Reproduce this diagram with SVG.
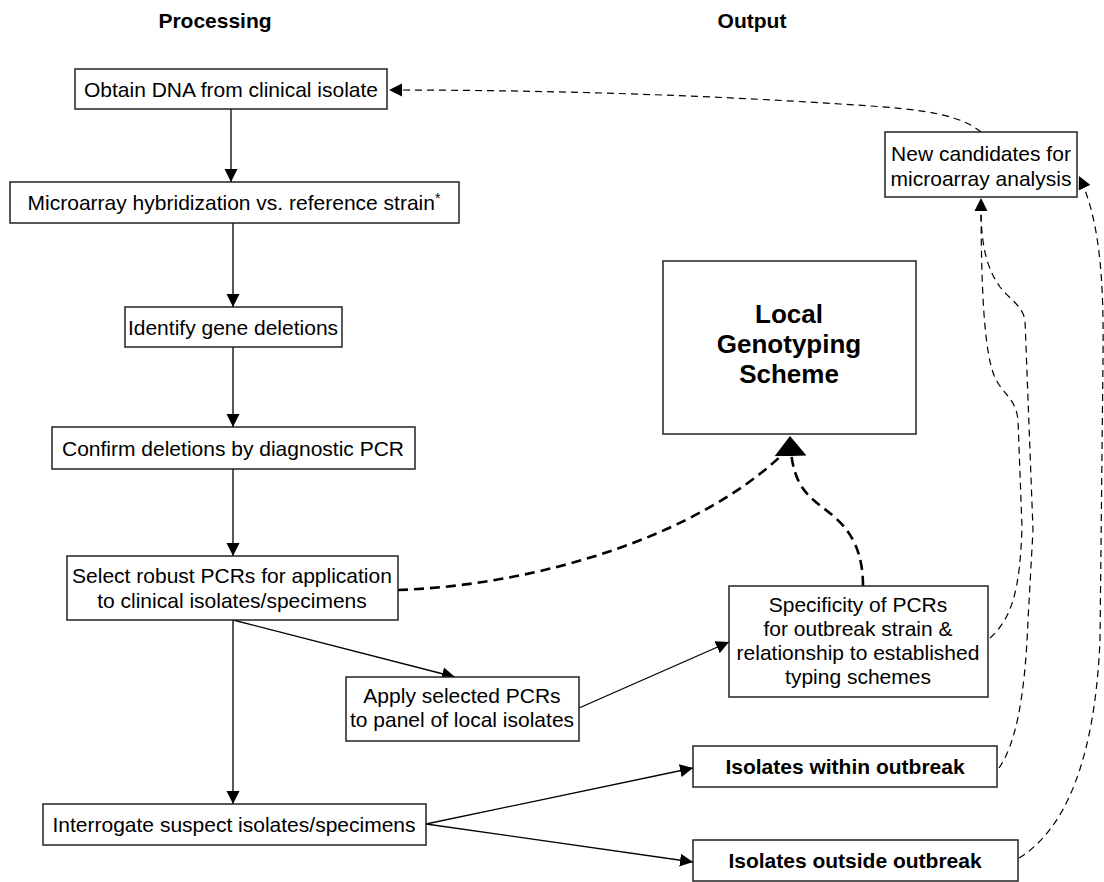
<svg xmlns="http://www.w3.org/2000/svg" width="1104" height="882" viewBox="0 0 1104 882">
<style>
.box{fill:#fff;stroke:#222;stroke-width:1.5}
.t{font-family:"Liberation Sans",Arial,sans-serif;font-size:21px;fill:#000;text-anchor:middle}
.b{font-weight:bold}
.big{font-size:26px}
.solid{fill:none;stroke:#000;stroke-width:1.3}
.thin{fill:none;stroke:#000;stroke-width:1.2;stroke-dasharray:7 5}
.thick{fill:none;stroke:#000;stroke-width:2.6;stroke-dasharray:10 6}
</style>
<defs>
<marker id="ah" markerUnits="userSpaceOnUse" markerWidth="14" markerHeight="14" viewBox="0 0 14 14" refX="13" refY="7" orient="auto">
<path d="M0,0.5 L13,7 L0,13.5 Z" fill="#000"/>
</marker>
<marker id="big" markerUnits="userSpaceOnUse" markerWidth="21" markerHeight="33" viewBox="0 0 21 33" refX="20" refY="16.5" orient="auto">
<path d="M0,0.5 L20,16.5 L0,32.5 Z" fill="#000"/>
</marker>
</defs>
<rect width="1104" height="882" fill="#fff"/>
<text class="t b" x="215" y="28">Processing</text>
<text class="t b" x="752" y="28">Output</text>
<g id="connectors">
<path class="solid" d="M231,109 L231,182" marker-end="url(#ah)"/>
<path class="solid" d="M233,223 L233,307" marker-end="url(#ah)"/>
<path class="solid" d="M233,347 L233,427" marker-end="url(#ah)"/>
<path class="solid" d="M233,469 L233,556" marker-end="url(#ah)"/>
<path class="solid" d="M233,620 L233,804" marker-end="url(#ah)"/>
<path class="solid" d="M233,620 L455,677" marker-end="url(#ah)"/>
<path class="solid" d="M579,708 L729,642" marker-end="url(#ah)"/>
<path class="solid" d="M426,824 L693,768" marker-end="url(#ah)"/>
<path class="solid" d="M426,824 L693,862" marker-end="url(#ah)"/>
<path class="thick" d="M398,590 C540,585 700,535 785,452"/>
<path class="thick" d="M863,586 C863,540 842,522 822,507 C802,492 791,478 790,436" marker-end="url(#big)"/>
<path class="thin" d="M981,132 C955,110 900,108 840,104 C700,95 550,90 389,90" marker-end="url(#ah)"/>
<path class="thin" d="M990,638 C1012,618 1020,590 1022,527 L1018,420 C1016,400 1005,395 998,383 C985,365 981,300 981,198" marker-end="url(#ah)"/>
<path class="thin" d="M999,768 C1015,745 1025,700 1028,620 L1033,530 L1025,320 C1022,305 1010,300 1000,287 C988,270 982,250 981,215"/>
<path class="thin" d="M1019,858 C1065,830 1095,760 1100,640 L1103,360 C1104,280 1100,220 1079,176" marker-end="url(#ah)"/>
</g>
<g id="n1"><rect class="box" x="75" y="69" width="312" height="40"/><text class="t" x="231" y="97">Obtain DNA from clinical isolate</text></g>
<g id="n2"><rect class="box" x="10" y="182" width="449" height="41"/><text class="t" x="234" y="210">Microarray hybridization vs. reference strain<tspan font-size="14" dy="-7">*</tspan></text></g>
<g id="n3"><rect class="box" x="125" y="307" width="217" height="40"/><text class="t" x="233" y="335">Identify gene deletions</text></g>
<g id="n4"><rect class="box" x="52" y="427" width="363" height="42"/><text class="t" x="233" y="456">Confirm deletions by diagnostic PCR</text></g>
<g id="n5"><rect class="box" x="67" y="556" width="331" height="64"/><text class="t" x="232" y="583">Select robust PCRs for application</text><text class="t" x="232" y="608">to clinical isolates/specimens</text></g>
<g id="n6"><rect class="box" x="346" y="677" width="233" height="64"/><text class="t" x="462" y="703">Apply selected PCRs</text><text class="t" x="462" y="727">to panel of local isolates</text></g>
<g id="n7"><rect class="box" x="729" y="586" width="259" height="111"/><text class="t" x="858" y="612">Specificity of PCRs</text><text class="t" x="858" y="636">for outbreak strain &amp;</text><text class="t" x="858" y="660">relationship to established</text><text class="t" x="858" y="684">typing schemes</text></g>
<g id="n8"><rect class="box" x="43" y="804" width="383" height="41"/><text class="t" x="234" y="832">Interrogate suspect isolates/specimens</text></g>
<g id="n9"><rect class="box" x="693" y="746" width="304" height="41"/><text class="t b" x="845" y="774">Isolates within outbreak</text></g>
<g id="n10"><rect class="box" x="693" y="840" width="325" height="41"/><text class="t b" x="855" y="868">Isolates outside outbreak</text></g>
<g id="n11"><rect class="box" x="663" y="261" width="253" height="173"/><text class="t b big" x="789" y="323">Local</text><text class="t b big" x="789" y="353">Genotyping</text><text class="t b big" x="789" y="383">Scheme</text></g>
<g id="n12"><rect class="box" x="885" y="132" width="192" height="65"/><text class="t" x="981" y="161">New candidates for</text><text class="t" x="981" y="186">microarray analysis</text></g>
</svg>
